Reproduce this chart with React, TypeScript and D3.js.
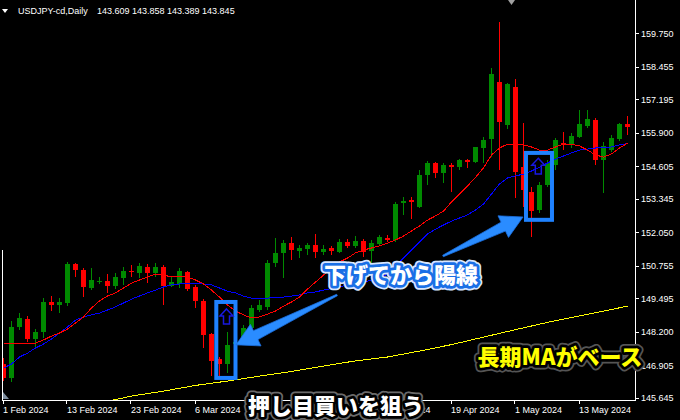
import React from 'react';
import * as d3 from 'd3';

// ---- data ----
const opens = [146.95,146.42,148.39,148.69,147.92,148.20,149.34,149.23,149.32,150.82,150.59,149.90,150.15,150.16,149.98,150.29,150.54,150.48,150.69,150.48,150.69,149.98,150.03,150.51,149.94,149.40,148.11,147.13,146.95,147.72,147.94,148.33,149.04,149.14,150.85,151.23,151.62,151.33,151.41,151.54,151.30,151.43,151.28,151.67,151.52,151.72,151.33,151.59,151.81,151.75,153.17,153.30,153.04,154.27,154.72,154.35,154.65,154.56,154.85,154.78,155.32,155.65,157.87,156.20,157.66,154.59,153.62,152.91,153.88,154.65,155.52,155.43,155.72,156.17,156.39,154.85,155.23,155.66,156.24];
const highs = [147.18,148.62,148.93,148.81,148.30,149.52,149.58,149.52,150.91,150.86,150.66,150.65,150.33,150.43,150.46,150.72,150.78,150.85,150.82,150.85,150.78,150.36,150.65,150.56,150.01,149.46,148.15,147.21,148.20,147.96,148.46,149.23,149.43,150.97,151.81,151.75,151.85,151.56,151.62,151.97,151.56,151.52,151.79,151.78,151.92,151.79,151.75,151.94,151.94,153.23,153.40,153.40,154.46,154.82,154.77,154.74,154.73,154.88,154.88,155.36,155.72,158.40,160.20,157.81,157.97,156.29,153.81,154.01,154.85,155.69,155.94,155.88,156.78,156.78,156.47,155.55,155.81,156.29,156.55];
const lows = [146.29,146.26,148.26,147.80,147.62,147.94,149.01,148.93,149.21,150.33,149.55,149.81,150.03,149.69,149.85,150.01,150.33,150.29,150.07,150.30,149.23,149.94,149.88,149.77,149.10,147.56,146.48,146.48,146.61,147.68,147.76,148.26,148.96,149.04,150.72,150.27,150.97,151.04,151.17,151.04,151.17,151.17,151.23,151.43,151.43,151.10,150.85,151.56,151.68,151.68,152.72,152.56,152.98,153.88,154.14,153.94,153.62,154.46,154.54,154.73,154.73,154.95,154.46,156.03,153.36,153.04,151.88,152.78,153.81,154.46,155.23,155.31,155.69,156.08,154.65,153.56,155.16,155.58,155.81];
const closes = [146.41,148.39,148.74,147.92,148.20,149.36,149.23,149.35,150.82,150.59,149.94,150.20,150.17,149.98,150.30,150.56,150.51,150.75,150.48,150.72,149.98,150.12,150.55,149.85,149.40,148.07,147.08,146.95,147.68,147.81,148.35,149.10,149.23,150.87,151.23,151.62,151.36,151.45,151.54,151.30,151.40,151.33,151.67,151.52,151.71,151.28,151.62,151.85,151.75,153.13,153.26,153.23,154.27,154.74,154.35,154.65,154.59,154.85,154.78,155.34,155.62,158.17,156.33,157.79,154.39,153.68,152.88,153.88,154.72,155.62,155.43,155.77,156.24,156.43,154.85,155.39,155.71,156.24,156.12];

const maFast = [147.75,147.75,147.75,147.75,147.76,147.88,148.03,148.15,148.30,148.54,148.77,149.12,149.39,149.58,149.70,149.89,150.08,150.20,150.32,150.43,150.39,150.32,150.32,150.32,150.20,150.05,149.81,149.54,149.23,149.00,148.85,148.73,148.77,148.88,149.00,149.19,149.35,149.54,149.85,150.12,150.39,150.66,150.90,151.05,151.25,151.36,151.44,151.52,151.63,151.75,151.90,152.10,152.29,152.52,152.68,152.87,153.22,153.53,153.84,154.17,154.54,155.04,155.31,155.46,155.46,155.43,155.35,155.23,155.23,155.35,155.46,155.46,155.39,155.23,155.04,154.96,155.08,155.31,155.50];
const maMid = [146.79,146.95,147.22,147.37,147.57,147.72,147.92,148.15,148.38,148.65,148.77,148.85,148.92,149.04,149.16,149.31,149.46,149.58,149.70,149.81,149.93,150.01,150.05,150.05,150.05,150.05,150.01,149.89,149.77,149.70,149.58,149.50,149.48,149.50,149.52,149.54,149.58,149.62,149.70,149.74,149.81,149.87,149.93,150.01,150.06,150.12,150.20,150.28,150.43,150.74,151.05,151.36,151.67,151.98,152.17,152.33,152.48,152.60,152.72,152.91,153.14,153.53,153.92,154.15,154.23,154.30,154.42,154.57,154.73,154.88,155.00,155.12,155.23,155.27,155.31,155.33,155.35,155.43,155.48];
const maSlowIdx = [10,12,14,16,20,24,28,32,36,40,44,48,52,56,60,64,68,72,76,78];
const maSlow = [145.36,145.48,145.57,145.71,145.90,146.12,146.29,146.48,146.66,146.87,147.07,147.22,147.45,147.70,147.99,148.28,148.56,148.81,149.06,149.19];

const priceTicks = [159.75,158.455,157.195,155.9,154.605,153.345,152.05,150.755,149.495,148.2,146.905,145.645];
const dateTickIdx = [0,8,16,24,32,40,48,56,64,72];
const dateLabels = ['1 Feb 2024','13 Feb 2024','23 Feb 2024','6 Mar 2024','18 Mar 2024','28 Mar 2024','9 Apr 2024','19 Apr 2024','1 May 2024','13 May 2024'];

const symbolLabel = 'USDJPY-cd,Daily';
const ohlcLabel = '143.609 143.858 143.389 143.845';

// annotations in data space (bar index, price)
const boxes = [
  { i0: 26.6, i1: 29.0, p0: 149.35, p1: 146.41 },
  { i0: 65.31, i1: 68.56, p0: 155.12, p1: 152.53 },
];
const upMarks = [
  { i: 27.875, top: 149.08, bottom: 148.50 },
  { i: 66.85, top: 154.91, bottom: 154.30 },
];
const pointers = [
  { ti: 41.69, tp: 149.62, hi: 29.06, hp: 147.69 },
  { ti: 54.94, tp: 151.13, hi: 64.94, hp: 152.64 },
];
const noteBuy = { text: '押し目買いを狙う', i: 41.56, p: 145.0 };
const noteTurn = { text: '下げてから陽線', i: 49.69, p: 150.08 };
const noteBase = { text: '長期MAがベース', i: 69.56, p: 146.9 };

const W = 680, H = 420;
const PLOT_R = 635, PLOT_B = 400;

export default function App() {
  const x = d3.scaleLinear().domain([0, 78]).range([3.5, 627.5]);
  const y = d3.scaleLinear().domain([145.645, 159.75]).range([397.7, 33.3]);

  const line = d3.line<number>().x((_, i) => x(i)).y(d => y(d));
  const slowLine = d3.line<number>().x((_, k) => x(maSlowIdx[k])).y(d => y(d));

  const candles = opens.map((o, i) => {
    const c = closes[i];
    const bull = c >= o;
    const col = bull ? '#008a00' : '#ff0000';
    const cx = x(i);
    const top = Math.round(y(Math.max(o, c)));
    const bot = Math.round(y(Math.min(o, c)));
    const hTop = Math.round(y(highs[i]));
    const hBot = Math.round(y(lows[i]));
    return (
      <g key={i}>
        <rect x={cx - 0.5} y={hTop} width={1} height={Math.max(1, hBot - hTop)} fill={col} />
        <rect x={cx - 2.5} y={top} width={5} height={Math.max(1, bot - top)} fill={col} />
      </g>
    );
  });

  const arrowPoly = (a: typeof pointers[0]) => {
    const T = [x(a.ti), y(a.tp)];
    const P = [x(a.hi), y(a.hp)];
    const dx = P[0] - T[0], dy = P[1] - T[1];
    const len = Math.hypot(dx, dy);
    const ux = dx / len, uy = dy / len;
    const nx = -uy, ny = ux;
    const headLen = 22, headHalf = 12, shaftHead = 5, shaftTail = 0.8;
    const B = [P[0] - ux * headLen, P[1] - uy * headLen];
    const pts = [
      [T[0] + nx * shaftTail, T[1] + ny * shaftTail],
      [B[0] + nx * shaftHead, B[1] + ny * shaftHead],
      [B[0] + nx * headHalf, B[1] + ny * headHalf],
      P,
      [B[0] - nx * headHalf, B[1] - ny * headHalf],
      [B[0] - nx * shaftHead, B[1] - ny * shaftHead],
      [T[0] - nx * shaftTail, T[1] - ny * shaftTail],
    ];
    return pts.map(p => p.join(',')).join(' ');
  };

  const upPoly = (m: typeof upMarks[0]) => {
    const cx = x(m.i), t = y(m.top), b = y(m.bottom);
    const hw = 6.5, sw = 3, hh = 7;
    const pts = [[cx, t], [cx + hw, t + hh], [cx + sw, t + hh], [cx + sw, b], [cx - sw, b], [cx - sw, t + hh], [cx - hw, t + hh]];
    return pts.map(p => p.join(',')).join(' ');
  };

  const cjk = '"Noto Sans CJK JP", "Noto Sans", sans-serif';
  const uiFont = '"Liberation Sans", Arial, sans-serif';

  const outlined = (n: { text: string; i: number; p: number }, fill: string, inner: string, outer: string, key: string) => (
    <g key={key} fontFamily={cjk} fontSize={22} fontWeight={900} textAnchor="middle">
      <text x={x(n.i)} y={y(n.p)} fill={outer} stroke={outer} strokeWidth={9} strokeLinejoin="round">{n.text}</text>
      <text x={x(n.i)} y={y(n.p)} fill={inner} stroke={inner} strokeWidth={5.5} strokeLinejoin="round">{n.text}</text>
      <text x={x(n.i)} y={y(n.p)} fill={fill}>{n.text}</text>
    </g>
  );

  return (
    <svg width={W} height={H} style={{ position: 'absolute', left: 0, top: 0, display: 'block' }}>
      <rect x={0} y={0} width={W} height={H} fill="#000" />
      <defs>
        <clipPath id="plot">
          <rect x={2} y={0} width={PLOT_R - 2} height={PLOT_B} />
        </clipPath>
      </defs>

      <g clipPath="url(#plot)">
        {candles}
        <path d={slowLine(maSlow) || ''} fill="none" stroke="#ffff00" strokeWidth={1} shapeRendering="crispEdges" />
        <path d={line(maMid) || ''} fill="none" stroke="#0000ff" strokeWidth={1} shapeRendering="crispEdges" />
        <path d={line(maFast) || ''} fill="none" stroke="#ff0000" strokeWidth={1} shapeRendering="crispEdges" />
      </g>

      {/* axes */}
      <line x1={PLOT_R + 0.5} y1={0} x2={PLOT_R + 0.5} y2={PLOT_B + 1} stroke="#fff" />
      <line x1={2} y1={PLOT_B + 0.5} x2={PLOT_R + 1} y2={PLOT_B + 0.5} stroke="#fff" />
      <line x1={2.5} y1={250} x2={2.5} y2={PLOT_B} stroke="#fff" />
      {priceTicks.map(v => (
        <g key={v}>
          <line x1={PLOT_R} x2={PLOT_R + 4} y1={Math.round(y(v)) + 0.5} y2={Math.round(y(v)) + 0.5} stroke="#fff" />
          <text x={641} y={y(v) + 3.5} fill="#fff" fontFamily={uiFont} fontSize={9}>{v.toFixed(3)}</text>
        </g>
      ))}
      {dateTickIdx.map((di, k) => (
        <g key={di}>
          <line x1={Math.round(x(di)) - 0.5} x2={Math.round(x(di)) - 0.5} y1={PLOT_B} y2={PLOT_B + 4} stroke="#fff" />
          <text x={x(di) - 0.5} y={413} fill="#fff" fontFamily={uiFont} fontSize={9}>{dateLabels[k]}</text>
        </g>
      ))}

      {/* header */}
      <path d="M2,9 L8,9 L5,13 Z" fill="#fff" />
      <text x={18} y={14} fill="#fff" fontFamily={uiFont} fontSize={9}>{symbolLabel}</text>
      <text x={97} y={14} fill="#fff" fontFamily={uiFont} fontSize={9}>{ohlcLabel}</text>
      <path d="M508,0 L515,0 L511.5,5 Z" fill="#a0a0a0" />
      <path d="M3,392 L3,399 L9,399 Z" fill="#7f8fa0" />

      {/* annotations */}
      {boxes.map((b, k) => (
        <rect key={k} x={x(b.i0)} y={y(b.p0)} width={x(b.i1) - x(b.i0)} height={y(b.p1) - y(b.p0)}
          fill="none" stroke="#1f82ff" strokeWidth={4} />
      ))}
      {upMarks.map((m, k) => (
        <polygon key={k} points={upPoly(m)} fill="none" stroke="#1818e0" strokeWidth={1.5} />
      ))}
      {pointers.map((a, k) => (
        <polygon key={k} points={arrowPoly(a)} fill="#2a8cff" stroke="#1a6ee0" strokeWidth={0.8} strokeLinejoin="round" />
      ))}

      {outlined(noteTurn, '#ffffff', '#1a6fe6', '#d8e6ff', 't1')}
      {outlined(noteBuy, '#ffffff', '#000000', '#6a6a6a', 't2')}
      {outlined(noteBase, '#ffff00', '#000000', '#555555', 't3')}
    </svg>
  );
}
